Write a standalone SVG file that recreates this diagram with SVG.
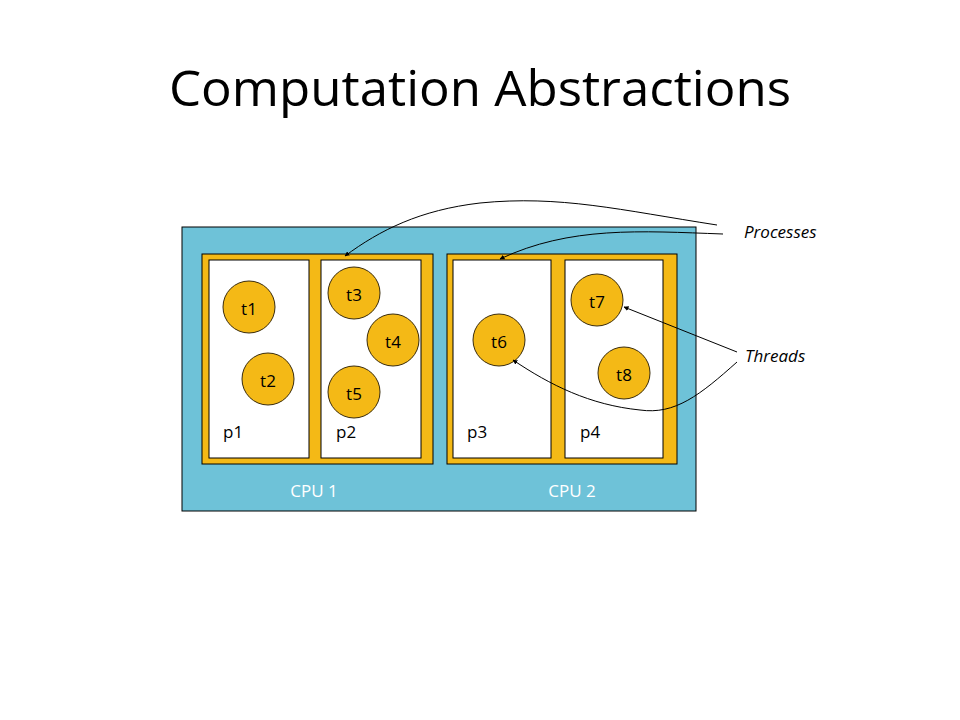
<svg xmlns="http://www.w3.org/2000/svg" width="960" height="720" viewBox="0 0 960 720">
<style>
.lbl{font-family:"Open Sans","Noto Sans",sans-serif;font-size:17px;fill:#000}
.cpu{font-family:"Open Sans","Noto Sans",sans-serif;font-size:17px;fill:#fff;text-anchor:middle}
.th{fill:#F4B916;stroke:#3a2c0c;stroke-width:1}
.tt{font-family:"Open Sans","Noto Sans",sans-serif;font-size:17px;fill:#000;text-anchor:middle;dominant-baseline:central}
.proc{fill:#F4B916;stroke:#000;stroke-width:1}
.box{fill:#fff;stroke:#000;stroke-width:1}
.note{font-family:"Open Sans","Noto Sans",sans-serif;font-size:17px;font-style:italic;fill:#000}
.con{fill:none;stroke:#000;stroke-width:1}
</style>
<defs>
<marker id="ah" viewBox="0 0 10 10" refX="9" refY="5" markerWidth="5" markerHeight="5" orient="auto-start-reverse" markerUnits="userSpaceOnUse">
<path d="M0,0 L10,5 L0,10 z" fill="#000"/>
</marker>
</defs>
<rect width="960" height="720" fill="#fff"/>
<text x="480" y="106" text-anchor="middle" font-family="Open Sans, Noto Sans, sans-serif" font-size="49" textLength="622" lengthAdjust="spacingAndGlyphs" fill="#000">Computation Abstractions</text>

<g id="cpus">
<rect x="182" y="227" width="514" height="284" fill="#6EC2D8" stroke="#000" stroke-width="1"/>
<text class="cpu" x="314" y="497">CPU 1</text>
<text class="cpu" x="572" y="497">CPU 2</text>
</g>

<g id="cpu1-procs">
<rect class="proc" x="202" y="254" width="231" height="210"/>
</g>
<g id="cpu2-procs">
<rect class="proc" x="447" y="254" width="230" height="210"/>
</g>

<g id="p1">
<rect class="box" x="209" y="260" width="100" height="198"/>
<text class="lbl" x="223" y="438">p1</text>
</g>
<g id="p2">
<rect class="box" x="321" y="260" width="100" height="198"/>
<text class="lbl" x="336" y="438">p2</text>
</g>
<g id="p3">
<rect class="box" x="453" y="260" width="98" height="198"/>
<text class="lbl" x="467" y="438">p3</text>
</g>
<g id="p4">
<rect class="box" x="565" y="260" width="98" height="198"/>
<text class="lbl" x="580" y="438">p4</text>
</g>

<g id="t1"><circle class="th" cx="249" cy="307" r="26"/><text class="tt" x="249" y="308">t1</text></g>
<g id="t2"><circle class="th" cx="268" cy="379" r="26"/><text class="tt" x="268" y="380">t2</text></g>
<g id="t3"><circle class="th" cx="354" cy="293" r="26"/><text class="tt" x="354" y="294">t3</text></g>
<g id="t4"><circle class="th" cx="393" cy="340" r="26"/><text class="tt" x="393" y="341">t4</text></g>
<g id="t5"><circle class="th" cx="354" cy="392" r="26"/><text class="tt" x="354" y="393">t5</text></g>
<g id="t6"><circle class="th" cx="499" cy="340" r="26"/><text class="tt" x="499" y="341">t6</text></g>
<g id="t7"><circle class="th" cx="597" cy="300" r="26"/><text class="tt" x="597" y="301">t7</text></g>
<g id="t8"><circle class="th" cx="624" cy="373" r="26"/><text class="tt" x="624" y="374">t8</text></g>

<g id="labels">
<text class="note" x="744" y="238">Processes</text>
<text class="note" x="745" y="362">Threads</text>
</g>

<g id="connectors">
<path class="con" d="M717,225 C620,210 560,195 480,203 C420,210 380,230 345,256" marker-end="url(#ah)"/>
<path class="con" d="M723,234 C640,231 570,226 500,259" marker-end="url(#ah)"/>
<path class="con" d="M737,352 L624,307" marker-end="url(#ah)"/>
<path class="con" d="M737,362 C700,395 675,415 640,410 C590,405 550,385 513,360" marker-end="url(#ah)"/>
</g>
</svg>
